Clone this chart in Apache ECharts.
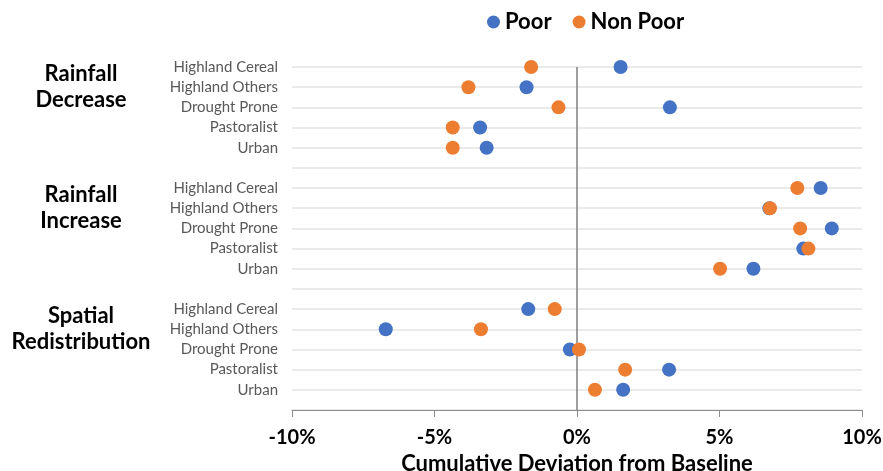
<!DOCTYPE html>
<html>
<head>
<meta charset="utf-8">
<script src="https://cdn.jsdelivr.net/npm/echarts@6/dist/echarts.min.js"></script>
<style>
html,body{margin:0;padding:0;background:#fff;}
#chart{width:883px;height:471px;}
</style>
</head>
<body>
<div id="chart"></div>
<script>
// ---- data ----
const scenarios = ['Rainfall Decrease', 'Rainfall Increase', 'Spatial Redistribution'];
const regions = ['Highland Cereal', 'Highland Others', 'Drought Prone', 'Pastoralist', 'Urban'];
// values in %, order follows regions
const poorDecrease = [1.53, -1.77, 3.26, -3.40, -3.17];
const nonPoorDecrease = [-1.61, -3.81, -0.65, -4.36, -4.36];
const poorIncrease = [8.55, 6.75, 8.94, 7.94, 6.19];
const nonPoorIncrease = [7.73, 6.77, 7.83, 8.12, 5.02];
const poorSpatial = [-1.71, -6.71, -0.25, 3.23, 1.62];
const nonPoorSpatial = [-0.78, -3.37, 0.07, 1.69, 0.63];
const xTicks = [-10, -5, 0, 5, 10];

const poorAll = [poorDecrease, poorIncrease, poorSpatial];
const nonPoorAll = [nonPoorDecrease, nonPoorIncrease, nonPoorSpatial];

// ---- layout rows (value y-axis: one row per region, blank row between groups) ----
const nRows = scenarios.length * (regions.length + 1) - 1; // 17
const rowLabels = {};
const groupLabels = {};
const poorData = [], nonPoorData = [];
scenarios.forEach((s, si) => {
  regions.forEach((r, ri) => {
    const y = nRows - si * (regions.length + 1) - ri;
    rowLabels[y] = r;
    if (ri === 1) groupLabels[y] = s.replace(' ', '\n');
    poorData.push([poorAll[si][ri], y]);
    nonPoorData.push([nonPoorAll[si][ri], y]);
  });
});

const FONT = 'Lato, "Open Sans", sans-serif';
const chart = echarts.init(document.getElementById('chart'), null, {renderer: 'canvas'});
chart.setOption({
  animation: false,
  backgroundColor: '#ffffff',
  textStyle: {fontFamily: FONT},
  legend: {
    top: 6,
    left: 482,
    icon: 'circle',
    itemWidth: 13,
    itemHeight: 13,
    itemGap: 21,
    textStyle: {fontFamily: FONT, fontSize: 22, fontWeight: 'bold', color: '#000'},
    data: ['Poor', 'Non Poor']
  },
  grid: {left: 292, right: 21, top: 67, bottom: 61, containLabel: false, outerBoundsMode: 'none'},
  xAxis: {
    type: 'value',
    min: xTicks[0],
    max: xTicks[xTicks.length - 1],
    interval: 5,
    name: 'Cumulative Deviation from Baseline',
    nameLocation: 'middle',
    nameGap: 39,
    nameTextStyle: {fontFamily: FONT, fontSize: 22, fontWeight: 'bold', color: '#000'},
    axisLine: {show: true, lineStyle: {color: '#8c8c8c', width: 1}},
    axisTick: {show: true, inside: false, length: 7, lineStyle: {color: '#8c8c8c'}},
    axisLabel: {
      margin: 18,
      fontFamily: FONT, fontSize: 20, fontWeight: 'bold', color: '#000',
      formatter: v => v + '%'
    },
    splitLine: {show: false}
  },
  yAxis: [{
    type: 'value',
    min: 0,
    max: nRows,
    interval: 1,
    axisLine: {show: false},
    axisTick: {show: false},
    splitLine: {show: true, lineStyle: {color: '#e3e3e3', width: 1.5}},
    axisLabel: {
      margin: 14,
      fontFamily: FONT, fontSize: 15, color: '#595959',
      formatter: v => rowLabels[v] || ''
    }
  }, {
    type: 'value',
    position: 'left',
    min: 0,
    max: nRows,
    interval: 1,
    axisLine: {show: false},
    axisTick: {show: false},
    splitLine: {show: false},
    axisLabel: {
      margin: 211,
      align: 'center',
      fontFamily: FONT, fontSize: 22, fontWeight: 'bold', color: '#000', lineHeight: 26,
      padding: [8, 0, 0, 0],
      formatter: v => groupLabels[v] || ''
    }
  }],
  series: [{
    name: 'Poor',
    type: 'scatter',
    yAxisIndex: 0,
    symbol: 'circle',
    symbolSize: 14,
    itemStyle: {color: '#4472C4', opacity: 1},
    data: poorData,
    z: 3,
    markLine: {
      silent: true,
      symbol: 'none',
      label: {show: false},
      lineStyle: {color: '#7f7f7f', width: 1.5, type: 'solid'},
      data: [{xAxis: 0}],
      z: 2
    }
  }, {
    name: 'Non Poor',
    type: 'scatter',
    yAxisIndex: 0,
    symbol: 'circle',
    symbolSize: 14,
    itemStyle: {color: '#ED7D31', opacity: 1},
    data: nonPoorData,
    z: 4
  }]
});
</script>
</body>
</html>
